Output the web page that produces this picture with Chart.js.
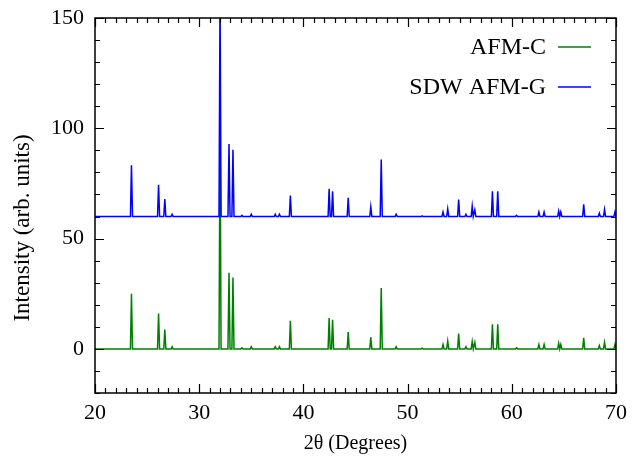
<!DOCTYPE html>
<html>
<head>
<meta charset="utf-8">
<script src="https://cdn.jsdelivr.net/npm/chart.js@4/dist/chart.umd.min.js"></script>
<style>
  html, body { margin: 0; padding: 0; background: #fff; }
  #wrap { width: 632px; height: 460px; }
</style>
</head>
<body>
<div id="wrap"><canvas id="xrd"></canvas></div>
<script>
// axis ticks
const xTicks = [20, 30, 40, 50, 60, 70];
const yTicks = [0, 50, 100, 150];

// AFM-C peaks (2theta, height above baseline 0)
const afmcPos = [23.5, 26.1, 26.7, 27.4, 32.0, 32.86, 33.24, 34.1, 35.0, 37.3, 37.7, 38.75, 42.47, 42.8, 44.3,
  46.47, 47.47, 48.9, 51.4, 53.4, 53.85, 54.9, 55.6, 56.2, 56.45, 58.14, 58.65, 60.45, 62.6, 63.1, 64.5, 64.7,
  66.9, 68.4, 68.9, 69.9];
const afmcHeight = [25, 16, 8.8, 1, 100, 34.5, 32.3, 0.5, 1, 1, 1, 12.7, 14, 13.2, 7.6,
  5.2, 27.6, 1, 0.3, 2, 3.5, 7, 1, 3.3, 3, 11.2, 11.2, 0.5, 2, 2, 2.5, 2,
  5, 1.5, 3, 2];

// SDW AFM-G peaks, plotted shifted up by 60
const sdwShift = 60;
const sdwPos = [23.5, 26.1, 26.7, 27.4, 32.0, 32.86, 33.24, 34.1, 35.0, 37.3, 37.7, 38.75, 42.47, 42.8, 44.3,
  46.47, 47.47, 48.9, 51.4, 53.4, 53.85, 54.9, 55.6, 56.2, 56.45, 58.14, 58.65, 60.45, 62.6, 63.1, 64.5, 64.7,
  66.9, 68.4, 68.9, 69.9];
const sdwHeight = [23.2, 14.4, 7.9, 1, 100, 32.9, 30.3, 0.5, 1, 1, 1, 9.5, 12.6, 11.4, 8.5,
  4.4, 25.9, 1, 0.3, 2, 3.5, 7.7, 1, 4.7, 3, 11.5, 11.5, 0.5, 2, 2, 2.5, 2,
  5.5, 1.5, 3.2, 2];

const yTitle = 'Intensity (arb. units)';

// turn a peak list into a stick-like profile
function profile(pos, height, base) {
  const pts = [{ x: 20, y: base }];
  pos.forEach((p, i) => {
    pts.push({ x: p - 0.1, y: base });
    pts.push({ x: p, y: base + height[i] });
    pts.push({ x: p + 0.1, y: base });
  });
  pts.push({ x: 70, y: base });
  return pts;
}

const FONT = '"Liberation Serif", "DejaVu Serif", serif';

// inside ticks on all four sides, frame, y title and legend (gnuplot look)
const framePlugin = {
  id: 'frame',
  afterDraw(chart) {
    const { ctx, chartArea: a, scales } = chart;
    const xs = scales.x, ys = scales.y;
    ctx.save();
    ctx.strokeStyle = '#000';
    ctx.lineWidth = 1.2;
    ctx.beginPath();
    for (let v = 20; v <= 70; v++) {
      const px = Math.round(xs.getPixelForValue(v)) + 0.5;
      const len = xTicks.includes(v) ? 9 : 5;
      ctx.moveTo(px, a.bottom);
      ctx.lineTo(px, a.bottom - len);
      ctx.moveTo(px, a.top);
      ctx.lineTo(px, a.top + len);
    }
    for (let v = -20; v <= 150; v += 10) {
      const py = Math.round(ys.getPixelForValue(v)) + 0.5;
      const len = yTicks.includes(v) ? 9 : 5;
      ctx.moveTo(a.left, py);
      ctx.lineTo(a.left + len, py);
      ctx.moveTo(a.right, py);
      ctx.lineTo(a.right - len, py);
    }
    ctx.stroke();
    ctx.lineWidth = 1.5;
    ctx.strokeRect(a.left, a.top, a.right - a.left, a.bottom - a.top);

    // y axis title, sits a little below the plot centre like the original
    ctx.save();
    ctx.translate(23, 228);
    ctx.rotate(-Math.PI / 2);
    ctx.font = '23px ' + FONT;
    ctx.fillStyle = '#000';
    ctx.textAlign = 'center';
    ctx.textBaseline = 'middle';
    ctx.fillText(yTitle, 0, 0);
    ctx.restore();

    // legend
    ctx.font = '24px ' + FONT;
    ctx.textAlign = 'right';
    ctx.textBaseline = 'middle';
    const order = [1, 0];
    order.forEach((di, k) => {
      const ds = chart.data.datasets[di];
      const y = 48 + k * 40;
      ctx.fillStyle = '#000';
      ctx.fillText(ds.label, 546, y);
      ctx.strokeStyle = ds.borderColor;
      ctx.lineWidth = 1.5;
      ctx.beginPath();
      ctx.moveTo(558, y - 1);
      ctx.lineTo(591, y - 1);
      ctx.stroke();
    });
    ctx.restore();
  }
};

new Chart(document.getElementById('xrd'), {
  type: 'scatter',
  data: {
    datasets: [
      {
        label: 'SDW AFM-G',
        data: profile(sdwPos, sdwHeight, sdwShift),
        borderColor: '#0000ff',
        showLine: true,
        borderWidth: 1.5,
        pointRadius: 0,
        tension: 0,
        order: 0
      },
      {
        label: 'AFM-C',
        data: profile(afmcPos, afmcHeight, 0),
        borderColor: '#008000',
        showLine: true,
        borderWidth: 1.5,
        pointRadius: 0,
        tension: 0,
        order: 1
      }
    ]
  },
  options: {
    responsive: true,
    maintainAspectRatio: false,
    animation: false,
    layout: { padding: { left: 0, top: 18, right: 16, bottom: 0 } },
    plugins: { legend: { display: false }, tooltip: { enabled: false } },
    scales: {
      x: {
        type: 'linear',
        min: 20,
        max: 70,
        afterBuildTicks: s => { s.ticks = xTicks.map(v => ({ value: v })); },
        afterFit: s => { s.height = 67; s.paddingLeft = 0; s.paddingRight = 0; },
        grid: { display: false, drawTicks: false },
        border: { display: false },
        ticks: { color: '#000', padding: 7, font: { family: FONT, size: 22 } },
        title: { display: true, text: '2θ (Degrees)', color: '#000', padding: { top: 4 }, font: { family: FONT, size: 20 } }
      },
      y: {
        min: -20,
        max: 150,
        afterBuildTicks: s => { s.ticks = yTicks.map(v => ({ value: v })); },
        afterFit: s => { s.width = 95; s.paddingTop = 0; s.paddingBottom = 0; },
        grid: { display: false, drawTicks: false },
        border: { display: false },
        ticks: { color: '#000', padding: 11, font: { family: FONT, size: 22 } },
        title: { display: false }
      }
    }
  },
  plugins: [framePlugin]
});
</script>
</body>
</html>
